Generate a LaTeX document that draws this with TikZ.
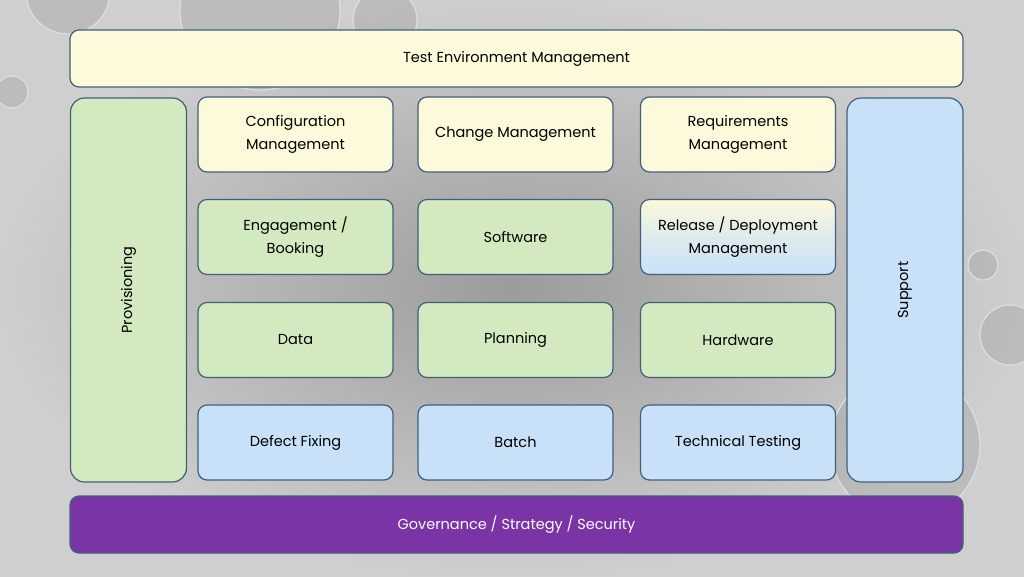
\documentclass[tikz,border=0pt]{standalone}
\usepackage{fontspec}
\setmainfont{Poppins}
\definecolor{cream}{HTML}{FDF9DB}
\definecolor{leaf}{HTML}{D3E9BF}
\definecolor{sky}{HTML}{C9E1F8}
\definecolor{plum}{HTML}{7A34A6}
\definecolor{edgeblue}{HTML}{41607C}
\tikzset{
  tile/.style={draw=edgeblue, line width=1.2pt, rounded corners=9pt, inner sep=0pt,
    minimum width=195pt, minimum height=75pt, align=center,
    font=\fontsize{14.5}{23}\selectfont},
  bar/.style={tile, minimum width=893pt, minimum height=57pt},
  pillar/.style={tile, minimum width=116pt, minimum height=384pt, rounded corners=14pt},
  bubble/.style={fill=gray!80, fill opacity=.35, draw=white!75!gray, line width=1.2pt}
}
\begin{document}
\begin{tikzpicture}[x=1pt,y=-1pt]
  % background
  \shade[inner color=gray!78, outer color=gray!38] (0,0) rectangle (1024,576);
  \useasboundingbox (0,0) rectangle (1024,576);
  % bubbles
  \draw[bubble] (68,-8) circle (42);
  \draw[bubble] (260,10) circle (80);
  \draw[bubble] (385,20) circle (32);
  \draw[bubble] (12,92) circle (16);
  \draw[bubble] (983,265) circle (15);
  \draw[bubble] (1010,335) circle (30);
  \draw[bubble] (905,445) circle (75);

  % top and bottom bars
  \node[bar, fill=cream] (tem) at (516.5,58.5) {Test Environment Management};
  \node[bar, fill=plum, text=white] (gov) at (516.5,524.5) {Governance / Strategy / Security};

  % side pillars
  \node[pillar, fill=leaf] (prov) at (128.5,290) {};
  \node[rotate=90, font=\fontsize{14.5}{23}\selectfont] at (prov.center) {Provisioning};
  \node[pillar, fill=sky] (supp) at (905,290) {};
  \node[rotate=90, font=\fontsize{14.5}{23}\selectfont] at (supp.center) {Support};

  % row 1
  \node[tile, fill=cream] (config) at (295.5,134.5) {Configuration\\Management};
  \node[tile, fill=cream] (change) at (515.5,134.5) {Change Management};
  \node[tile, fill=cream] (reqs) at (738,134.5) {Requirements\\Management};
  % row 2
  \node[tile, fill=leaf] (engage) at (295.5,237) {Engagement /\\Booking};
  \node[tile, fill=leaf] (soft) at (515.5,237) {Software};
  \node[tile, top color=cream, bottom color=sky, middle color=sky!60!cream] (release) at (738,237) {Release / Deployment\\Management};
  % row 3
  \node[tile, fill=leaf] (data) at (295.5,340) {Data};
  \node[tile, fill=leaf] (plan) at (515.5,340) {Planning};
  \node[tile, fill=leaf] (hard) at (738,340) {Hardware};
  % row 4
  \node[tile, fill=sky] (defect) at (295.5,442.5) {Defect Fixing};
  \node[tile, fill=sky] (batch) at (515.5,442.5) {Batch};
  \node[tile, fill=sky] (tech) at (738,442.5) {Technical Testing};
\end{tikzpicture}
\end{document}
